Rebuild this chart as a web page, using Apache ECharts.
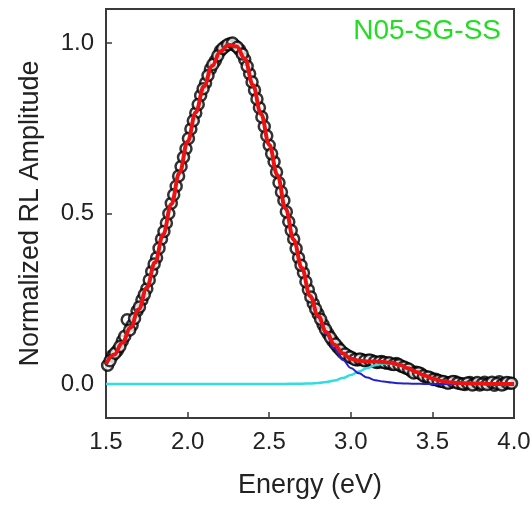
<!DOCTYPE html>
<html>
<head>
<meta charset="utf-8">
<script src="https://cdn.jsdelivr.net/npm/echarts@6/dist/echarts.min.js"></script>
<style>html,body{margin:0;padding:0;background:#fff;}#c{width:532px;height:512px;}</style>
</head>
<body>
<div id="c"></div>
<script>
// Fit curves sampled at 0.05 eV
const fitEnergy = [1.50,1.55,1.60,1.65,1.70,1.75,1.80,1.85,1.90,1.95,2.00,2.05,2.10,2.15,2.20,2.25,2.30,2.35,2.40,2.45,2.50,2.55,2.60,2.65,2.70,2.75,2.80,2.85,2.90,2.95,3.00,3.05,3.10,3.15,3.20,3.25,3.30,3.35,3.40,3.45,3.50,3.55,3.60,3.65,3.70,3.75,3.80,3.85,3.90,3.95,4.00];
const totalFit = [0.058,0.086,0.121,0.165,0.219,0.282,0.356,0.438,0.527,0.619,0.711,0.797,0.873,0.933,0.975,0.995,0.990,0.955,0.877,0.792,0.702,0.613,0.515,0.423,0.340,0.258,0.200,0.152,0.115,0.090,0.074,0.068,0.066,0.066,0.064,0.062,0.056,0.046,0.035,0.025,0.016,0.009,0.005,0.003,0.002,0.001,0.001,0.000,0.000,0.000,0.000];
const peak1 = [0.058,0.086,0.121,0.165,0.219,0.282,0.356,0.438,0.527,0.619,0.711,0.797,0.873,0.933,0.975,0.995,0.990,0.955,0.877,0.790,0.700,0.612,0.514,0.421,0.337,0.256,0.195,0.145,0.103,0.071,0.047,0.031,0.019,0.011,0.007,0.004,0.002,0.001,0.0005,0,0,0,0,0,0,0,0,0,0,0,0];
const peak2 = [0,0,0,0,0,0,0,0,0,0,0,0,0,0,0,0,0,0,0,0,0,0,0.0001,0.0003,0.0006,0.0013,0.0028,0.0056,0.0102,0.017,0.026,0.0364,0.0468,0.0551,0.0596,0.0591,0.0537,0.0448,0.0343,0.024,0.0155,0.0091,0.0049,0.0024,0.0011,0.0005,0.0002,0,0,0,0];
// Measured data points (two interleaved sweeps)
const dataEnergyA = [1.51,1.54,1.57,1.60,1.63,1.66,1.69,1.72,1.75,1.78,1.81,1.84,1.87,1.90,1.93,1.96,1.99,2.02,2.05,2.08,2.11,2.14,2.17,2.20,2.23,2.26,2.29,2.32,2.35,2.38,2.41,2.44,2.47,2.50,2.53,2.56,2.59,2.62,2.65,2.68,2.71,2.74,2.77,2.80,2.83,2.86,2.89,2.92,2.95,2.98,3.01,3.04,3.07,3.10,3.13,3.16,3.19,3.22,3.25,3.28,3.31,3.34,3.37,3.40,3.43,3.46,3.49,3.52,3.55,3.58,3.61,3.64,3.67,3.70,3.73,3.76,3.79,3.82,3.85,3.88,3.91,3.94,3.97];
const dataValueA = [0.055,0.083,0.098,0.126,0.188,0.172,0.214,0.246,0.279,0.330,0.370,0.425,0.472,0.530,0.580,0.638,0.690,0.748,0.795,0.846,0.883,0.924,0.948,0.977,0.990,0.998,0.993,0.980,0.952,0.910,0.862,0.810,0.755,0.700,0.652,0.590,0.538,0.476,0.425,0.370,0.326,0.276,0.236,0.205,0.174,0.148,0.126,0.108,0.092,0.083,0.076,0.070,0.071,0.069,0.068,0.063,0.066,0.061,0.058,0.060,0.052,0.046,0.038,0.034,0.030,0.020,0.017,0.014,0.008,0.005,0.004,0.006,0.001,-0.002,0.004,0.000,-0.003,0.005,0.001,-0.004,0.006,0.000,0.003];
const dataEnergyB = [1.525,1.555,1.585,1.615,1.645,1.675,1.705,1.735,1.765,1.795,1.825,1.855,1.885,1.915,1.945,1.975,2.005,2.035,2.065,2.095,2.125,2.155,2.185,2.215,2.245,2.275,2.305,2.335,2.365,2.395,2.425,2.455,2.485,2.515,2.545,2.575,2.605,2.635,2.665,2.695,2.725,2.755,2.785,2.815,2.845,2.875,2.905,2.935,2.965,2.995,3.025,3.055,3.085,3.115,3.145,3.175,3.205,3.235,3.265,3.295,3.325,3.355,3.385,3.415,3.445,3.475,3.505,3.535,3.565,3.595,3.625,3.655,3.685,3.715,3.745,3.775,3.805,3.835,3.865,3.895,3.925,3.955,3.985];
const dataValueB = [0.068,0.090,0.110,0.140,0.158,0.192,0.226,0.262,0.305,0.352,0.398,0.447,0.500,0.555,0.610,0.665,0.720,0.772,0.820,0.866,0.905,0.937,0.963,0.984,0.995,1.000,0.988,0.968,0.932,0.886,0.836,0.783,0.728,0.675,0.622,0.563,0.505,0.450,0.397,0.348,0.300,0.255,0.220,0.190,0.160,0.136,0.117,0.100,0.088,0.079,0.072,0.073,0.068,0.070,0.065,0.064,0.063,0.062,0.057,0.056,0.050,0.044,0.032,0.033,0.024,0.020,0.013,0.010,0.007,0.002,0.007,0.003,0.000,0.003,-0.003,0.004,0.000,-0.002,0.005,0.001,-0.003,0.004,0.002];
const xTicks = [1.5,2.0,2.5,3.0,3.5,4.0];
const yTicks = [0.0,0.5,1.0];
const sampleLabel = 'N05-SG-SS';

const zip = (xs, ys) => xs.map((x, i) => [x, ys[i]]);
const font = 'Liberation Sans, Arial, sans-serif';
const axisColor = '#3a3a3a';

const chart = echarts.init(document.getElementById('c'), null, {renderer: 'canvas'});
chart.setOption({
  animation: false,
  backgroundColor: '#fff',
  title: {
    text: sampleLabel, right: 26, top: 12,
    textStyle: {color: '#22dd22', fontSize: 28, fontWeight: 'normal', fontFamily: font}
  },
  grid: {left: 106, right: 18, top: 9, bottom: 94, show: true, borderColor: axisColor, borderWidth: 2, containLabel: false, outerBoundsMode: 'none'},
  xAxis: {
    type: 'value', min: 1.5, max: 4.0, interval: 0.5,
    name: 'Energy (eV)', nameLocation: 'middle', nameGap: 54,
    nameTextStyle: {fontSize: 27, color: '#222', fontFamily: font},
    axisLine: {show: true, onZero: false, lineStyle: {color: axisColor, width: 2}},
    axisTick: {show: true, inside: true, length: 6, lineStyle: {color: axisColor, width: 1.5}, customValues: xTicks},
    axisLabel: {fontSize: 24, color: '#222', fontFamily: font, margin: 12, customValues: xTicks, formatter: v => v.toFixed(1)},
    splitLine: {show: false}
  },
  yAxis: {
    type: 'value', min: -0.1, max: 1.1,
    name: 'Normalized RL Amplitude', nameLocation: 'middle', nameGap: 62,
    nameTextStyle: {fontSize: 27, color: '#222', fontFamily: font},
    axisLine: {show: true, onZero: false, lineStyle: {color: axisColor, width: 2}},
    axisTick: {show: true, inside: true, length: 6, lineStyle: {color: axisColor, width: 1.5}, customValues: yTicks},
    axisLabel: {fontSize: 24, color: '#222', fontFamily: font, margin: 12, customValues: yTicks, formatter: v => v.toFixed(1)},
    splitLine: {show: false}
  },
  series: [
    {type: 'scatter', data: zip(dataEnergyA, dataValueA).concat(zip(dataEnergyB, dataValueB)), symbol: 'circle', symbolSize: 11,
     itemStyle: {color: '#fff', borderColor: '#000', borderWidth: 2.5}, z: 1, silent: true},
    {type: 'line', data: zip(fitEnergy, peak2), showSymbol: false, smooth: 0.4, smoothMonotone: 'x',
     lineStyle: {color: '#33dddd', width: 2.5}, z: 2},
    {type: 'line', data: zip(fitEnergy, peak1), showSymbol: false, smooth: 0.4, smoothMonotone: 'x',
     lineStyle: {color: '#2222cc', width: 2}, z: 3},
    {type: 'line', data: zip(fitEnergy, totalFit), showSymbol: false, smooth: 0.4, smoothMonotone: 'x',
     lineStyle: {color: '#ee1111', width: 4}, z: 4}
  ]
});
</script>
</body>
</html>
